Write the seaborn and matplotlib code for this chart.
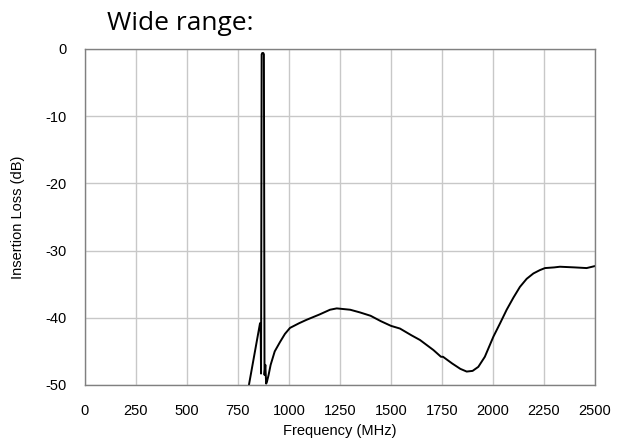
import matplotlib
matplotlib.use("Agg")
import matplotlib.pyplot as plt
import seaborn as sns
import pandas as pd

freq_mhz = [800, 858, 861, 863, 866, 869, 874, 877, 880, 884, 888, 892, 900, 910, 930, 956,
            980, 1005, 1050, 1086, 1150, 1201, 1234, 1300, 1348, 1400, 1450, 1500, 1544, 1600,
            1642, 1708, 1745, 1755, 1800, 1840, 1871, 1900, 1928, 1960, 2002, 2035, 2067, 2100,
            2132, 2165, 2198, 2230, 2255, 2300, 2328, 2400, 2459, 2500]
loss_db = [-50.6, -40.8, -41.5, -48.3, -0.8, -0.6, -0.6, -0.8, -48.5, -47.0, -49.8, -49.5,
           -48.5, -47.0, -45.0, -43.6, -42.4, -41.5, -40.8, -40.3, -39.5, -38.8, -38.6, -38.8,
           -39.2, -39.7, -40.5, -41.2, -41.6, -42.6, -43.3, -44.8, -45.8, -45.8, -46.8, -47.6,
           -48.0, -47.9, -47.3, -45.8, -42.8, -40.8, -38.8, -37.0, -35.4, -34.2, -33.4, -32.9,
           -32.6, -32.5, -32.4, -32.5, -32.6, -32.3]
x_ticks = [0, 250, 500, 750, 1000, 1250, 1500, 1750, 2000, 2250, 2500]
y_ticks = [0, -10, -20, -30, -40, -50]

sns.set_theme(style="white")
plt.rcParams['font.family'] = ['Liberation Sans', 'DejaVu Sans']

df = pd.DataFrame({"Frequency (MHz)": freq_mhz, "Insertion Loss (dB)": loss_db})

fig = plt.figure(figsize=(6.24, 4.43), dpi=100)
ax = fig.add_axes([85/624, 1-385/443, 510/624, 336/443])
sns.lineplot(data=df, x="Frequency (MHz)", y="Insertion Loss (dB)", ax=ax,
             color="black", linewidth=1.4, estimator=None, sort=False)

ax.set_xlim(0, 2500)
ax.set_ylim(-50, 0)
ax.set_xticks(x_ticks)
ax.set_yticks(y_ticks)
ax.set_xticklabels([str(v) for v in x_ticks])
ax.set_yticklabels([str(v) for v in y_ticks])
ax.tick_params(axis='both', length=0, labelsize=10.5, colors='black')
ax.tick_params(axis='y', pad=13)
ax.tick_params(axis='x', pad=14)
ax.grid(True, color='#c8c8c8', linewidth=1)
for s in ax.spines.values():
    s.set_color('#808080')
    s.set_linewidth(1)
ax.set_xlabel("Frequency (MHz)", fontsize=10.5, color='black')
ax.set_ylabel("Insertion Loss (dB)", fontsize=10.5, color='black')
ax.xaxis.set_label_coords(0.5, -0.115)
ax.yaxis.set_label_coords(-0.118, 0.5)
ax.yaxis.label.set_va('bottom')

fig.text(107/624, 1-24/443, "Wide range:", fontsize=19, family=['Open Sans', 'DejaVu Sans'],
         ha='left', va='center', color='black')

fig.savefig("out.png", dpi=100)
